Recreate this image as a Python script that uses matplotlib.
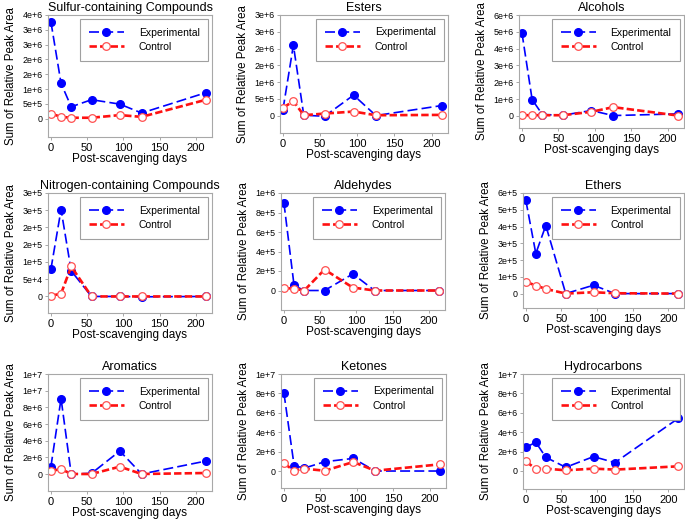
import matplotlib
matplotlib.use("Agg")
import matplotlib.pyplot as plt

plt.rcParams['font.family'] = ['Liberation Sans', 'DejaVu Sans']

days = [0, 14, 28, 56, 95, 125, 214]

titles = ["Sulfur-containing Compounds", "Esters", "Alcohols",
          "Nitrogen-containing Compounds", "Aldehydes", "Ethers",
          "Aromatics", "Ketones", "Hydrocarbons"]

exp_sulfur = [3.27e6, 1.19e6, 0.40e6, 0.64e6, 0.49e6, 0.19e6, 0.88e6]
ctl_sulfur = [0.17e6, 0.06e6, 0.03e6, 0.03e6, 0.12e6, 0.06e6, 0.64e6]
exp_esters = [0.18e6, 2.1e6, 0.01e6, -0.02e6, 0.61e6, 0.0, 0.30e6]
ctl_esters = [0.23e6, 0.43e6, 0.01e6, 0.06e6, 0.12e6, 0.01e6, 0.02e6]
exp_alcohols = [4.95e6, 0.97e6, 0.08e6, 0.04e6, 0.32e6, 0.02e6, 0.12e6]
ctl_alcohols = [0.04e6, 0.04e6, 0.04e6, 0.04e6, 0.24e6, 0.52e6, 0.02e6]
exp_nitrogen = [0.79e5, 2.52e5, 0.74e5, 0.0, 0.0, -0.01e5, 0.0]
ctl_nitrogen = [0.02e5, 0.08e5, 0.87e5, 0.0, 0.0, 0.0, 0.0]
exp_aldehydes = [0.90e6, 0.052e6, 0.0, 0.0, 0.17e6, 0.0, 0.0]
ctl_aldehydes = [0.024e6, 0.02e6, 0.0, 0.215e6, 0.03e6, 0.0, 0.0]
exp_ethers = [5.56e5, 2.39e5, 4.06e5, 0.0, 0.50e5, 0.0, 0.0]
ctl_ethers = [0.70e5, 0.48e5, 0.28e5, 0.0, 0.08e5, 0.02e5, 0.0]
exp_aromatics = [0.88e6, 9.04e6, 0.0, 0.08e6, 2.76e6, 0.0, 1.56e6]
ctl_aromatics = [0.36e6, 0.60e6, 0.0, 0.0, 0.88e6, 0.0, 0.12e6]
exp_ketones = [8.04e6, 0.55e6, 0.30e6, 0.96e6, 1.30e6, 0.0, 0.0]
ctl_ketones = [0.79e6, 0.03e6, 0.24e6, 0.03e6, 0.93e6, 0.03e6, 0.69e6]
exp_hydrocarbons = [2.44e6, 2.96e6, 1.41e6, 0.38e6, 1.48e6, 0.86e6, 5.43e6]
ctl_hydrocarbons = [1.0e6, 0.20e6, 0.24e6, 0.07e6, 0.24e6, 0.14e6, 0.48e6]

experimental = [exp_sulfur, exp_esters, exp_alcohols, exp_nitrogen, exp_aldehydes,
                exp_ethers, exp_aromatics, exp_ketones, exp_hydrocarbons]
control = [ctl_sulfur, ctl_esters, ctl_alcohols, ctl_nitrogen, ctl_aldehydes,
           ctl_ethers, ctl_aromatics, ctl_ketones, ctl_hydrocarbons]

# y tick spacing and the (rounded) labels as printed on the original
ytick_steps = [5e5, 5e5, 1e6, 5e4, 2e5, 1e5, 2e6, 2e6, 2e6]
ytick_labels = [
    ["0", "5e+5", "1e+6", "2e+6", "2e+6", "3e+6", "3e+6", "4e+6"],
    ["0", "5e+5", "1e+6", "2e+6", "2e+6", "3e+6", "3e+6"],
    ["0", "1e+6", "2e+6", "3e+6", "4e+6", "5e+6", "6e+6"],
    ["0", "5e+4", "1e+5", "2e+5", "2e+5", "3e+5", "3e+5"],
    ["0", "2e+5", "4e+5", "6e+5", "8e+5", "1e+6"],
    ["0", "1e+5", "2e+5", "3e+5", "4e+5", "5e+5", "6e+5"],
    ["0", "2e+6", "4e+6", "6e+6", "8e+6", "1e+7", "1e+7"],
    ["0", "2e+6", "4e+6", "6e+6", "8e+6", "1e+7"],
    ["0", "2e+6", "4e+6", "6e+6", "8e+6", "1e+7"],
]
ybottom = [-0.62e6, -0.52e6, -0.72e6, -0.48e5, -0.2e6, -0.86e5, -2.04e6, -1.75e6, -1.86e6]

# axes boxes in pixels: left, top, right, bottom
boxes = [(48, 15, 212, 137), (280, 15, 448, 133), (519, 15, 684, 128),
         (48, 193, 212, 313), (281, 193, 445, 310), (523, 193, 684, 308),
         (48, 374, 212, 491), (281, 374, 446, 488), (523, 374, 684, 489)]

W, H = 685, 522
fig = plt.figure(figsize=(W / 100, H / 100), dpi=100)

for i in range(9):
    l, t, r, b = boxes[i]
    ax = fig.add_axes([l / W, 1 - b / H, (r - l) / W, (b - t) / H])
    ax.plot(days, experimental[i], color='#0000ff', lw=1.2, dashes=(6, 2.5),
            marker='o', ms=5.5, mfc='#0000ff', mec='#0000ff', label='Experimental')
    ax.plot(days, control[i], color='#ff1010', lw=1.9, dashes=(2.8, 1.2),
            marker='o', ms=5.5, mfc='white', mec='#ff5050', mew=0.9, label='Control')

    ticks = [k * ytick_steps[i] for k in range(len(ytick_labels[i]))]
    ax.set_yticks(ticks)
    ax.set_yticklabels(ytick_labels[i])
    ax.set_ylim(ybottom[i], ticks[-1])
    ax.set_xlim(-4, 222)
    ax.set_xticks([0, 50, 100, 150, 200])

    for s in ax.spines.values():
        s.set_color('#a8a8a8')
        s.set_linewidth(0.8)
    ax.tick_params(length=2.5, width=0.7, color='#a8a8a8', labelsize=6.4, pad=1.5)
    ax.tick_params(axis='x', labelsize=8, pad=1.5)

    ax.set_title(titles[i], fontsize=9, pad=3)
    ax.set_xlabel("Post-scavenging days", fontsize=8.5, labelpad=0)
    ax.set_ylabel("Sum of Relative Peak Area", fontsize=8.3, labelpad=4)

    leg = ax.legend(loc='upper right', fontsize=7.5, handlelength=3.4,
                    handletextpad=1.4, borderaxespad=0.35, borderpad=0.85,
                    labelspacing=0.4, fancybox=False, framealpha=1)
    leg.get_frame().set_edgecolor('#a0a0a0')
    leg.get_frame().set_linewidth(0.8)

fig.savefig("out.png", dpi=100)
